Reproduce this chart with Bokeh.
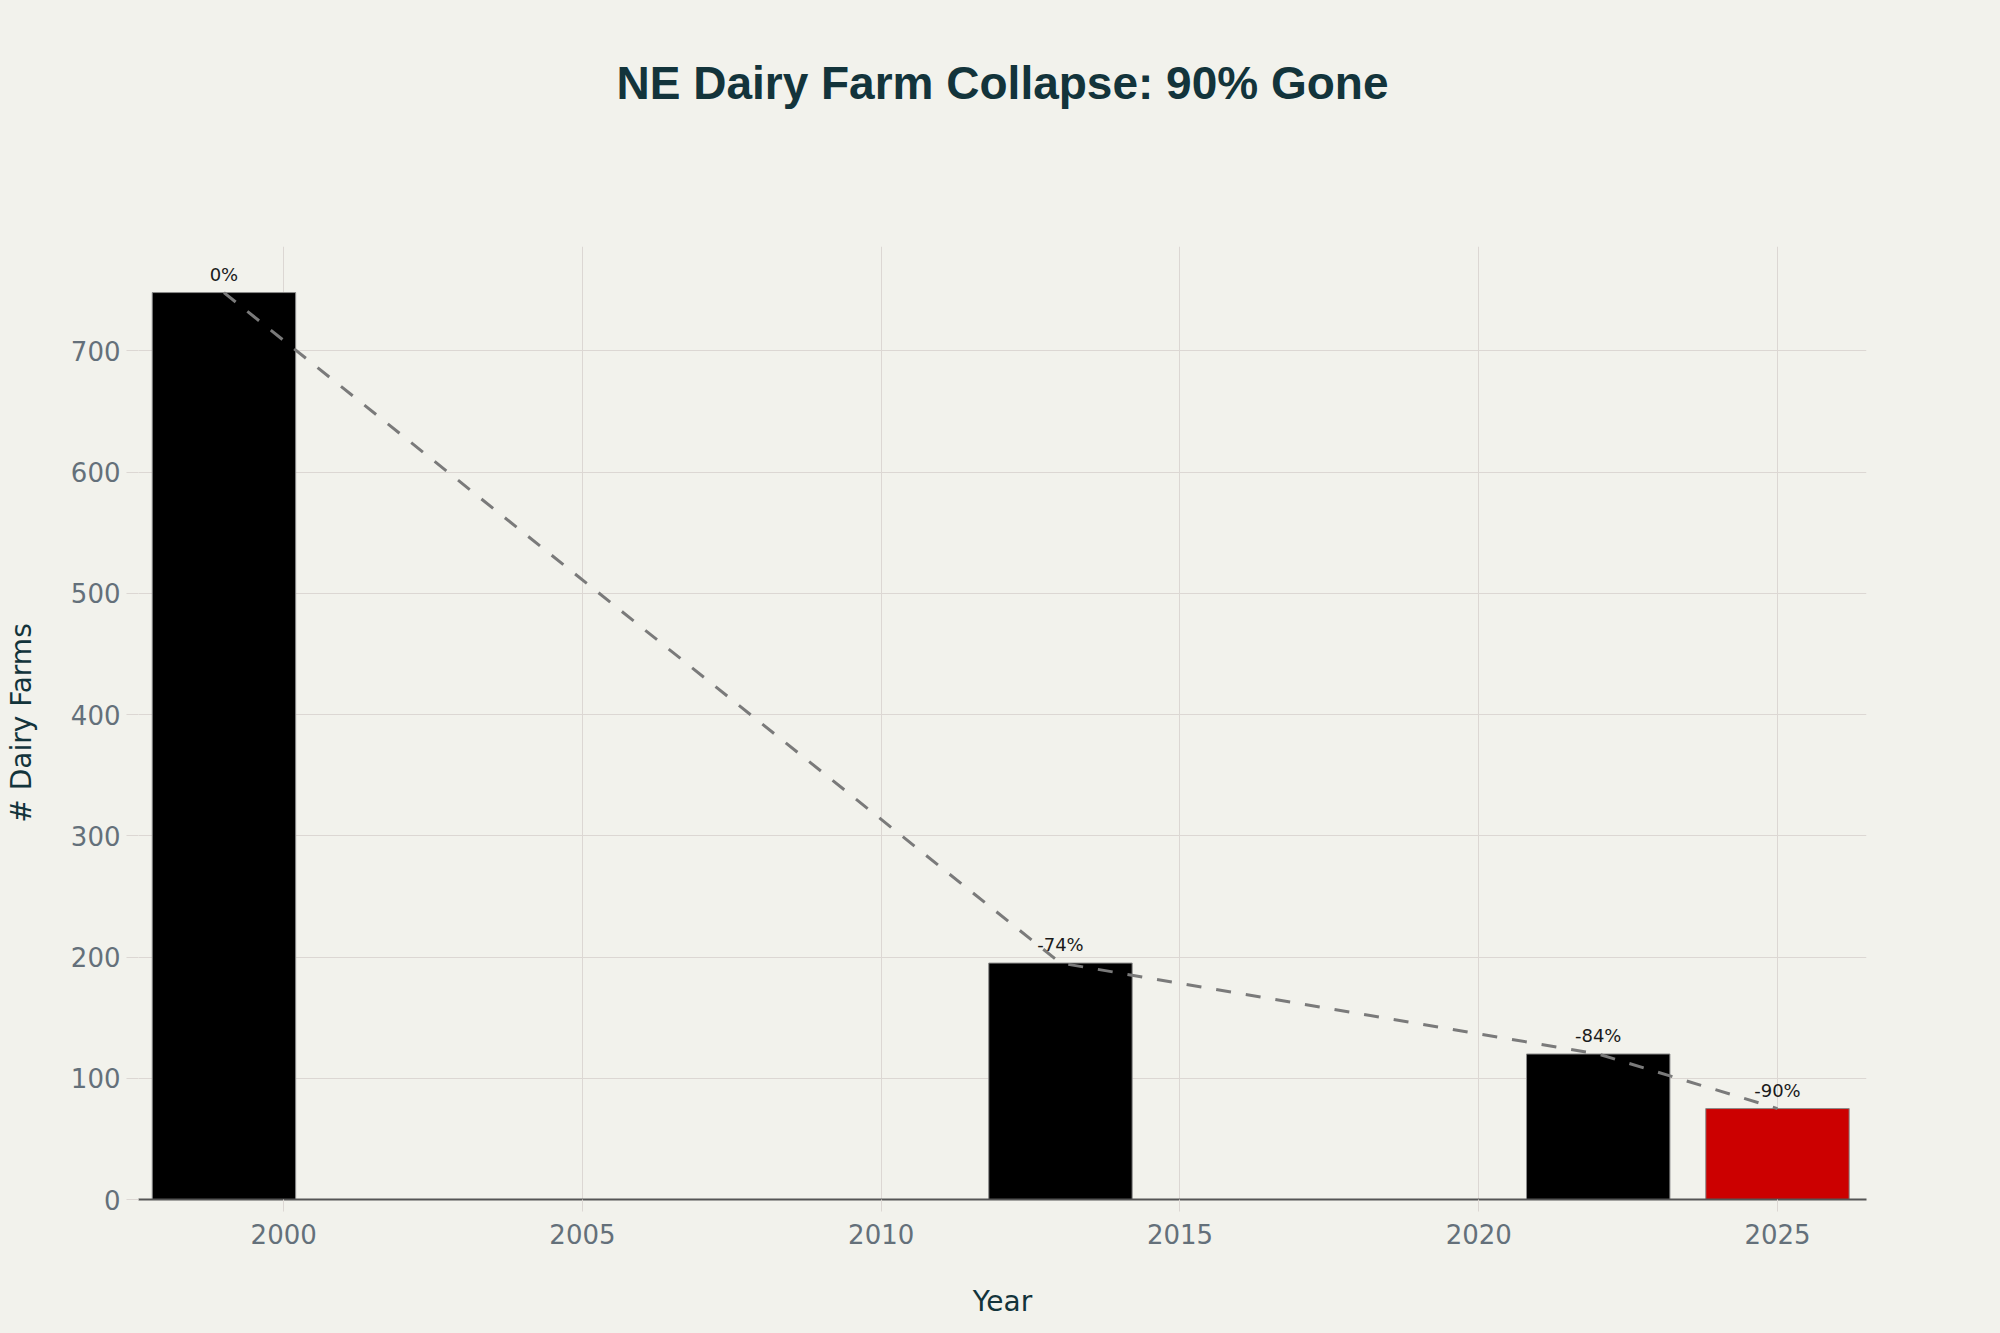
from bokeh.plotting import figure
from bokeh.models import ColumnDataSource, FixedTicker, LabelSet, Title, Range1d
from bokeh.core.properties import value
from bokeh.embed import file_html
from bokeh.resources import INLINE

# ---- data ----
years = [1999, 2013, 2022, 2025]
farms = [748, 195, 120, 75]
pct_labels = ["0%", "-74%", "-84%", "-90%"]
x_ticks = [2000, 2005, 2010, 2015, 2020, 2025]
y_ticks = [0, 100, 200, 300, 400, 500, 600, 700]
title_text = "NE Dairy Farm Collapse: 90% Gone"

BG = "#F2F2EC"
bar_colors = ["#000000", "#000000", "#000000", "#CC0000"]

src = ColumnDataSource(dict(x=years, top=farms, lab=pct_labels, color=bar_colors))

p = figure(width=2000, height=1333, output_backend="svg", toolbar_location=None,
           x_range=Range1d(1997.57, 2026.49), y_range=Range1d(0, 786),
           min_border_left=138, min_border_right=134, min_border_top=246, min_border_bottom=134)

p.background_fill_color = BG
p.border_fill_color = BG
p.outline_line_color = None

# empty spacer panel between the plot area and the title
spacer = Title(text=" ", text_font_size="1px", standoff=135, text_color=BG)
p.add_layout(spacer, "above")

p.title.text = title_text
p.title.align = "center"
p.title.text_font = "Liberation Sans"
p.title.text_font_style = "bold"
p.title.text_font_size = "46px"
p.title.text_color = "#13343B"
p.title.standoff = 0

p.vbar(x="x", top="top", width=2.4, bottom=0, source=src, fill_color="color",
       line_color="#8a8a8a", line_width=1)
p.line(years, farms, line_color="#7a7a7a", line_width=3, line_dash="15 15")

labels = LabelSet(x="x", y="top", text="lab", source=src, y_offset=12,
                  text_align="center", text_baseline="alphabetic",
                  text_font=value("DejaVu Sans"), text_font_size=value("18px"),
                  text_color="#1a1a1a")
p.add_layout(labels)

GRID = "#DCD7D3"
TICKC = "#64707A"
for ax in (p.xaxis[0], p.yaxis[0]):
    ax.major_label_text_font = "DejaVu Sans"
    ax.major_label_text_font_size = "26px"
    ax.major_label_text_color = TICKC
    ax.major_tick_in = 0
    ax.major_tick_out = 12
    ax.major_tick_line_color = GRID
    ax.minor_tick_line_color = None
    ax.axis_label_text_font = "DejaVu Sans"
    ax.axis_label_text_font_size = "28px"
    ax.axis_label_text_font_style = "normal"
    ax.axis_label_text_color = "#13343B"

p.xaxis.ticker = FixedTicker(ticks=x_ticks)
p.yaxis.ticker = FixedTicker(ticks=y_ticks)
p.xaxis.axis_label = "Year"
p.yaxis.axis_label = "# Dairy Farms"
p.xaxis.axis_line_color = "#555555"
p.xaxis.axis_line_width = 2
p.yaxis.axis_line_color = None
p.xaxis.major_label_standoff = 12
p.yaxis.major_label_standoff = 6
p.xaxis.axis_label_standoff = 38
p.yaxis.axis_label_standoff = 30

p.xgrid.ticker = FixedTicker(ticks=x_ticks)
p.ygrid.ticker = FixedTicker(ticks=y_ticks)
p.xgrid.grid_line_color = GRID
p.ygrid.grid_line_color = GRID
p.xgrid.grid_line_width = 1
p.ygrid.grid_line_width = 1

html = file_html(p, INLINE)
html = html.replace("<head>", "<head><style>body{background:%s;}</style>" % BG, 1)
open("out.html", "w").write(html)
